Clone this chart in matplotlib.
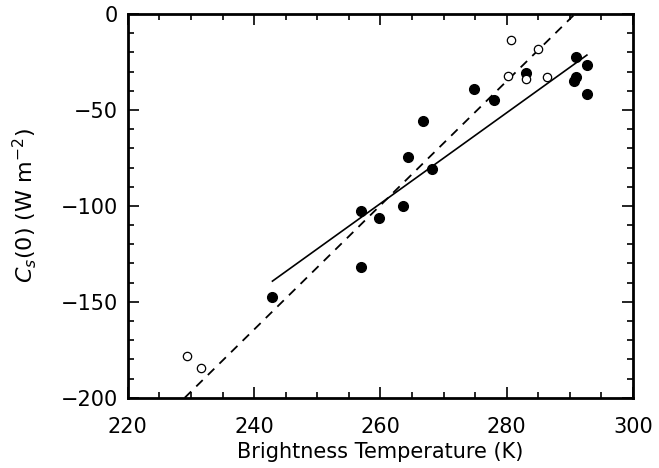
import matplotlib
matplotlib.use("Agg")
import matplotlib.pyplot as plt
from matplotlib.ticker import MultipleLocator

# Filled points
filled_x = [291.0, 292.7, 290.9, 290.7, 292.7, 283.1, 274.8, 278.0, 266.7, 264.3,
            268.1, 256.9, 259.8, 263.5, 256.9, 242.9]
filled_y = [-22.6, -26.4, -33.0, -35.0, -41.7, -30.7, -39.0, -45.0, -55.6, -74.3,
            -80.9, -102.8, -106.3, -100.3, -131.9, -147.6]
# Open points
open_x = [280.7, 285.0, 280.2, 283.1, 286.4, 229.3, 231.6]
open_y = [-13.5, -18.2, -32.5, -33.9, -33.0, -178.0, -184.4]
# Fit lines (end points)
solid_x = [242.9, 292.7]
solid_y = [-139.2, -21.4]
dash_x = [229.0, 290.8]
dash_y = [-200.0, 0.0]

fig = plt.figure(figsize=(6.59, 4.68), dpi=100)
ax = fig.add_axes([0.194, 0.150, 0.7665, 0.820])

ax.plot(solid_x, solid_y, '-', color='black', lw=1.2)
ax.plot(dash_x, dash_y, '--', color='black', lw=1.3, dashes=(5, 4))
ax.plot(filled_x, filled_y, 'o', color='black', ms=7, mec='black')
ax.plot(open_x, open_y, 'o', mfc='white', mec='black', ms=6, mew=0.9)

ax.set_xlim(220, 300)
ax.set_ylim(-200, 0)
ax.xaxis.set_major_locator(MultipleLocator(20))
ax.xaxis.set_minor_locator(MultipleLocator(5))
ax.yaxis.set_major_locator(MultipleLocator(50))
ax.yaxis.set_minor_locator(MultipleLocator(10))
ax.tick_params(which='both', direction='in', top=True, right=True, width=1.2)
ax.tick_params(which='major', length=8, labelsize=15)
ax.tick_params(axis='x', which='major', pad=14)
ax.tick_params(axis='y', which='major', pad=7)
ax.tick_params(which='minor', length=4)
for s in ax.spines.values():
    s.set_linewidth(2)

ax.set_xlabel('Brightness Temperature (K)', fontsize=15)
ax.set_ylabel(r'$\mathit{C_s(0)}$ (W m$^{-2}$)', fontsize=16)
ax.xaxis.set_label_coords(0.5, -0.115)
ax.yaxis.set_label_coords(-0.175, 0.5)

fig.savefig('out.png', dpi=100)
